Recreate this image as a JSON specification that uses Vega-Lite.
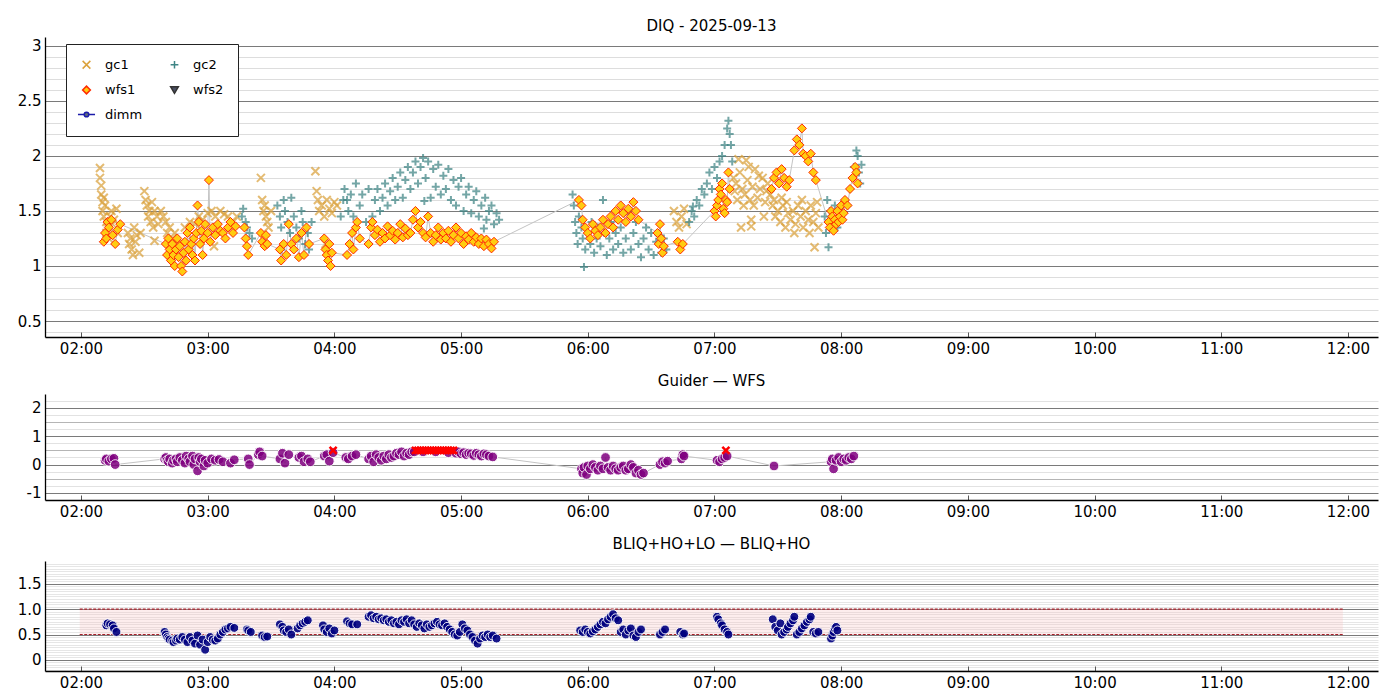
{
  "$schema": "https://vega.github.io/schema/vega-lite/v6.json",
  "padding": {"top": 19, "left": 15, "right": 5, "bottom": 2},
  "config": {
    "font": "DejaVu Sans",
    "view": {"stroke": null},
    "title": {"fontSize": 15, "fontWeight": "normal", "color": "#000", "offset": 5},
    "axis": {"labelFontSize": 15, "labelColor": "#000", "domainColor": "#000", "domainWidth": 1.3, "tickColor": "#555", "title": null, "labelOverlap": false, "labelFlush": false},
    "concat": {"spacing": 17}
  },
  "datasets": {
    "diq": [
      {"s":"gc1","h":2.15,"v":1.89},{"s":"gc1","h":2.15,"v":1.8},{"s":"gc1","h":2.16,"v":1.73},{"s":"gc1","h":2.16,"v":1.65},{"s":"gc1","h":2.17,"v":1.58},{"s":"gc1","h":2.17,"v":1.5},{"s":"gc1","h":2.18,"v":1.62},{"s":"gc1","h":2.18,"v":1.45},{"s":"gc1","h":2.19,"v":1.55},{"s":"gc1","h":2.2,"v":1.4},{"s":"gc1","h":2.2,"v":1.3},{"s":"gc1","h":2.21,"v":1.35},{"s":"gc1","h":2.22,"v":1.25},{"s":"gc1","h":2.23,"v":1.45},{"s":"gc1","h":2.24,"v":1.5},{"s":"gc1","h":2.25,"v":1.38},{"s":"gc1","h":2.26,"v":1.42},{"s":"gc1","h":2.28,"v":1.52},{"s":"gc1","h":2.29,"v":1.3},
      {"s":"gc1","h":2.37,"v":1.3},{"s":"gc1","h":2.38,"v":1.2},{"s":"gc1","h":2.39,"v":1.25},{"s":"gc1","h":2.4,"v":1.15},{"s":"gc1","h":2.41,"v":1.1},{"s":"gc1","h":2.42,"v":1.35},{"s":"gc1","h":2.43,"v":1.22},{"s":"gc1","h":2.44,"v":1.28},{"s":"gc1","h":2.46,"v":1.12},{"s":"gc1","h":2.47,"v":1.3},
      {"s":"gc1","h":2.5,"v":1.68},{"s":"gc1","h":2.51,"v":1.6},{"s":"gc1","h":2.52,"v":1.55},{"s":"gc1","h":2.53,"v":1.45},{"s":"gc1","h":2.54,"v":1.5},{"s":"gc1","h":2.55,"v":1.4},{"s":"gc1","h":2.56,"v":1.58},{"s":"gc1","h":2.57,"v":1.35},{"s":"gc1","h":2.58,"v":1.5},{"s":"gc1","h":2.58,"v":1.23},{"s":"gc1","h":2.6,"v":1.45},{"s":"gc1","h":2.61,"v":1.38},
      {"s":"gc1","h":2.63,"v":1.5},{"s":"gc1","h":2.65,"v":1.45},{"s":"gc1","h":2.67,"v":1.4},{"s":"gc1","h":2.68,"v":1.3},{"s":"gc1","h":2.7,"v":1.35},{"s":"gc1","h":2.72,"v":1.25},{"s":"gc1","h":2.74,"v":1.3},{"s":"gc1","h":2.76,"v":1.2},
      {"s":"gc1","h":2.82,"v":1.35},{"s":"gc1","h":2.86,"v":1.4},{"s":"gc1","h":2.9,"v":1.38},{"s":"gc1","h":2.93,"v":1.45},{"s":"gc1","h":2.96,"v":1.42},{"s":"gc1","h":3.0,"v":1.48},{"s":"gc1","h":3.03,"v":1.5},{"s":"gc1","h":3.05,"v":1.18},{"s":"gc1","h":3.06,"v":1.45},{"s":"gc1","h":3.1,"v":1.5},{"s":"gc1","h":3.13,"v":1.47},{"s":"gc1","h":3.16,"v":1.45},{"s":"gc1","h":3.2,"v":1.4},{"s":"gc1","h":3.23,"v":1.45},
      {"s":"gc1","h":3.42,"v":1.8},{"s":"gc1","h":3.43,"v":1.6},{"s":"gc1","h":3.44,"v":1.5},{"s":"gc1","h":3.45,"v":1.55},{"s":"gc1","h":3.46,"v":1.45},{"s":"gc1","h":3.47,"v":1.4},{"s":"gc1","h":3.48,"v":1.35},{"s":"gc1","h":3.5,"v":1.5},
      {"s":"gc1","h":3.85,"v":1.86},{"s":"gc1","h":3.86,"v":1.68},{"s":"gc1","h":3.87,"v":1.6},{"s":"gc1","h":3.88,"v":1.5},{"s":"gc1","h":3.9,"v":1.55},{"s":"gc1","h":3.92,"v":1.45},{"s":"gc1","h":3.93,"v":1.2},{"s":"gc1","h":3.94,"v":1.6},{"s":"gc1","h":3.96,"v":1.52},{"s":"gc1","h":3.98,"v":1.48},{"s":"gc1","h":4.0,"v":1.58},{"s":"gc1","h":4.02,"v":1.55},
      {"s":"gc1","h":6.68,"v":1.5},{"s":"gc1","h":6.7,"v":1.4},{"s":"gc1","h":6.72,"v":1.35},{"s":"gc1","h":6.74,"v":1.45},{"s":"gc1","h":6.76,"v":1.52},{"s":"gc1","h":6.78,"v":1.38},
      {"s":"gc1","h":7.15,"v":1.8},{"s":"gc1","h":7.16,"v":1.68},{"s":"gc1","h":7.17,"v":1.75},{"s":"gc1","h":7.18,"v":1.6},{"s":"gc1","h":7.19,"v":1.97},{"s":"gc1","h":7.2,"v":1.85},{"s":"gc1","h":7.21,"v":1.35},{"s":"gc1","h":7.22,"v":1.7},{"s":"gc1","h":7.23,"v":1.55},{"s":"gc1","h":7.24,"v":1.65},{"s":"gc1","h":7.25,"v":1.96},{"s":"gc1","h":7.26,"v":1.78},{"s":"gc1","h":7.27,"v":1.9},{"s":"gc1","h":7.28,"v":1.6},{"s":"gc1","h":7.29,"v":1.36},{"s":"gc1","h":7.29,"v":1.42},{"s":"gc1","h":7.3,"v":1.72},{"s":"gc1","h":7.31,"v":1.55},{"s":"gc1","h":7.32,"v":1.88},{"s":"gc1","h":7.34,"v":1.62},{"s":"gc1","h":7.35,"v":1.82},{"s":"gc1","h":7.36,"v":1.7},{"s":"gc1","h":7.38,"v":1.8},{"s":"gc1","h":7.39,"v":1.45},{"s":"gc1","h":7.4,"v":1.58},{"s":"gc1","h":7.41,"v":1.68},{"s":"gc1","h":7.42,"v":1.75},{"s":"gc1","h":7.44,"v":1.65},
      {"s":"gc1","h":7.46,"v":1.55},{"s":"gc1","h":7.47,"v":1.6},{"s":"gc1","h":7.48,"v":1.45},{"s":"gc1","h":7.5,"v":1.5},{"s":"gc1","h":7.52,"v":1.4},{"s":"gc1","h":7.53,"v":1.62},{"s":"gc1","h":7.54,"v":1.55},{"s":"gc1","h":7.56,"v":1.35},{"s":"gc1","h":7.57,"v":1.58},{"s":"gc1","h":7.58,"v":1.48},{"s":"gc1","h":7.6,"v":1.42},{"s":"gc1","h":7.62,"v":1.5},{"s":"gc1","h":7.63,"v":1.3},{"s":"gc1","h":7.64,"v":1.38},{"s":"gc1","h":7.66,"v":1.55},{"s":"gc1","h":7.68,"v":1.45},{"s":"gc1","h":7.69,"v":1.6},{"s":"gc1","h":7.7,"v":1.35},{"s":"gc1","h":7.72,"v":1.5},{"s":"gc1","h":7.74,"v":1.42},{"s":"gc1","h":7.75,"v":1.3},{"s":"gc1","h":7.76,"v":1.55},{"s":"gc1","h":7.78,"v":1.4},{"s":"gc1","h":7.79,"v":1.17},{"s":"gc1","h":7.8,"v":1.48},{"s":"gc1","h":7.81,"v":1.58},{"s":"gc1","h":7.82,"v":1.35},

      {"s":"gc2","h":3.27,"v":1.45},{"s":"gc2","h":3.28,"v":1.52},{"s":"gc2","h":3.3,"v":1.4},{"s":"gc2","h":3.31,"v":1.35},{"s":"gc2","h":3.33,"v":1.3},{"s":"gc2","h":3.35,"v":1.25},
      {"s":"gc2","h":3.55,"v":1.55},{"s":"gc2","h":3.57,"v":1.45},{"s":"gc2","h":3.58,"v":1.35},{"s":"gc2","h":3.58,"v":1.15},{"s":"gc2","h":3.6,"v":1.6},{"s":"gc2","h":3.61,"v":1.5},{"s":"gc2","h":3.63,"v":1.4},{"s":"gc2","h":3.65,"v":1.3},{"s":"gc2","h":3.66,"v":1.62},{"s":"gc2","h":3.68,"v":1.45},{"s":"gc2","h":3.7,"v":1.35},{"s":"gc2","h":3.72,"v":1.25},{"s":"gc2","h":3.74,"v":1.5},{"s":"gc2","h":3.75,"v":1.4},{"s":"gc2","h":3.77,"v":1.2},{"s":"gc2","h":3.79,"v":1.3},{"s":"gc2","h":3.8,"v":1.15},{"s":"gc2","h":3.82,"v":1.4},
      {"s":"gc2","h":4.05,"v":1.45},{"s":"gc2","h":4.07,"v":1.6},{"s":"gc2","h":4.08,"v":1.7},{"s":"gc2","h":4.1,"v":1.6},{"s":"gc2","h":4.11,"v":1.5},{"s":"gc2","h":4.13,"v":1.65},{"s":"gc2","h":4.15,"v":1.45},{"s":"gc2","h":4.17,"v":1.75},{"s":"gc2","h":4.2,"v":1.55},{"s":"gc2","h":4.22,"v":1.65},{"s":"gc2","h":4.25,"v":1.4},{"s":"gc2","h":4.27,"v":1.7},
      {"s":"gc2","h":4.3,"v":1.45},{"s":"gc2","h":4.32,"v":1.6},{"s":"gc2","h":4.34,"v":1.7},{"s":"gc2","h":4.36,"v":1.5},{"s":"gc2","h":4.38,"v":1.62},{"s":"gc2","h":4.4,"v":1.75},{"s":"gc2","h":4.42,"v":1.55},{"s":"gc2","h":4.44,"v":1.68},{"s":"gc2","h":4.46,"v":1.8},{"s":"gc2","h":4.48,"v":1.6},{"s":"gc2","h":4.5,"v":1.72},{"s":"gc2","h":4.52,"v":1.85},{"s":"gc2","h":4.54,"v":1.62},{"s":"gc2","h":4.56,"v":1.78},{"s":"gc2","h":4.58,"v":1.9},{"s":"gc2","h":4.6,"v":1.7},{"s":"gc2","h":4.62,"v":1.85},{"s":"gc2","h":4.64,"v":1.95},{"s":"gc2","h":4.66,"v":1.75},{"s":"gc2","h":4.68,"v":1.9},{"s":"gc2","h":4.7,"v":1.98},{"s":"gc2","h":4.71,"v":1.59},{"s":"gc2","h":4.72,"v":1.8},{"s":"gc2","h":4.74,"v":1.95},{"s":"gc2","h":4.76,"v":1.62},{"s":"gc2","h":4.78,"v":1.88},{"s":"gc2","h":4.8,"v":1.72},{"s":"gc2","h":4.82,"v":1.92},{"s":"gc2","h":4.84,"v":1.65},{"s":"gc2","h":4.86,"v":1.82},{"s":"gc2","h":4.88,"v":1.7},{"s":"gc2","h":4.9,"v":1.88},{"s":"gc2","h":4.92,"v":1.6},{"s":"gc2","h":4.94,"v":1.78},{"s":"gc2","h":4.96,"v":1.55},{"s":"gc2","h":4.98,"v":1.72},{"s":"gc2","h":5.0,"v":1.8},{"s":"gc2","h":5.02,"v":1.5},{"s":"gc2","h":5.04,"v":1.65},{"s":"gc2","h":5.06,"v":1.72},{"s":"gc2","h":5.08,"v":1.48},{"s":"gc2","h":5.1,"v":1.6},{"s":"gc2","h":5.12,"v":1.68},{"s":"gc2","h":5.14,"v":1.45},{"s":"gc2","h":5.16,"v":1.55},{"s":"gc2","h":5.18,"v":1.34},{"s":"gc2","h":5.19,"v":1.62},{"s":"gc2","h":5.2,"v":1.42},{"s":"gc2","h":5.22,"v":1.5},{"s":"gc2","h":5.24,"v":1.55},{"s":"gc2","h":5.26,"v":1.38},{"s":"gc2","h":5.28,"v":1.48},{"s":"gc2","h":5.3,"v":1.42},
      {"s":"gc2","h":5.88,"v":1.65},{"s":"gc2","h":5.89,"v":1.55},{"s":"gc2","h":5.9,"v":1.4},{"s":"gc2","h":5.91,"v":1.3},{"s":"gc2","h":5.92,"v":1.2},{"s":"gc2","h":5.93,"v":1.45},{"s":"gc2","h":5.95,"v":1.35},{"s":"gc2","h":5.96,"v":1.25},{"s":"gc2","h":5.97,"v":0.99},{"s":"gc2","h":5.98,"v":1.15},{"s":"gc2","h":6.0,"v":1.3},{"s":"gc2","h":6.02,"v":1.2},{"s":"gc2","h":6.03,"v":1.4},{"s":"gc2","h":6.05,"v":1.12},{"s":"gc2","h":6.07,"v":1.25},{"s":"gc2","h":6.08,"v":1.35},{"s":"gc2","h":6.1,"v":1.18},{"s":"gc2","h":6.12,"v":1.6},{"s":"gc2","h":6.13,"v":1.3},{"s":"gc2","h":6.15,"v":1.1},{"s":"gc2","h":6.17,"v":1.25},{"s":"gc2","h":6.18,"v":1.4},{"s":"gc2","h":6.2,"v":1.15},{"s":"gc2","h":6.22,"v":1.3},{"s":"gc2","h":6.24,"v":1.2},{"s":"gc2","h":6.26,"v":1.35},{"s":"gc2","h":6.28,"v":1.12},{"s":"gc2","h":6.3,"v":1.25},{"s":"gc2","h":6.32,"v":1.5},{"s":"gc2","h":6.34,"v":1.15},{"s":"gc2","h":6.36,"v":1.3},{"s":"gc2","h":6.38,"v":1.4},{"s":"gc2","h":6.4,"v":1.2},{"s":"gc2","h":6.42,"v":1.08},{"s":"gc2","h":6.44,"v":1.25},{"s":"gc2","h":6.46,"v":1.35},{"s":"gc2","h":6.48,"v":1.15},{"s":"gc2","h":6.5,"v":1.3},{"s":"gc2","h":6.52,"v":1.1},{"s":"gc2","h":6.54,"v":1.22},{"s":"gc2","h":6.56,"v":1.28},{"s":"gc2","h":6.58,"v":1.12},{"s":"gc2","h":6.6,"v":1.25},{"s":"gc2","h":6.62,"v":1.15},
      {"s":"gc2","h":6.8,"v":1.4},{"s":"gc2","h":6.82,"v":1.5},{"s":"gc2","h":6.83,"v":1.54},{"s":"gc2","h":6.84,"v":1.45},{"s":"gc2","h":6.86,"v":1.6},{"s":"gc2","h":6.88,"v":1.55},{"s":"gc2","h":6.9,"v":1.7},{"s":"gc2","h":6.92,"v":1.65},{"s":"gc2","h":6.94,"v":1.75},{"s":"gc2","h":6.96,"v":1.85},{"s":"gc2","h":6.98,"v":1.7},{"s":"gc2","h":7.0,"v":1.9},{"s":"gc2","h":7.02,"v":1.8},{"s":"gc2","h":7.04,"v":1.95},{"s":"gc2","h":7.06,"v":2.0},{"s":"gc2","h":7.08,"v":2.1},{"s":"gc2","h":7.1,"v":2.25},{"s":"gc2","h":7.11,"v":2.32},{"s":"gc2","h":7.12,"v":2.2},{"s":"gc2","h":7.13,"v":2.1},{"s":"gc2","h":7.14,"v":1.95},
      {"s":"gc2","h":7.87,"v":1.45},{"s":"gc2","h":7.88,"v":1.3},{"s":"gc2","h":7.89,"v":1.6},{"s":"gc2","h":7.9,"v":1.17},{"s":"gc2","h":7.91,"v":1.5},{"s":"gc2","h":7.93,"v":1.4},{"s":"gc2","h":7.95,"v":1.55},{"s":"gc2","h":7.97,"v":1.35},{"s":"gc2","h":7.99,"v":1.45},{"s":"gc2","h":8.01,"v":1.5},{"s":"gc2","h":8.03,"v":1.6},{"s":"gc2","h":8.05,"v":1.55},{"s":"gc2","h":8.07,"v":1.7},{"s":"gc2","h":8.09,"v":1.8},{"s":"gc2","h":8.1,"v":1.9},{"s":"gc2","h":8.12,"v":2.05},{"s":"gc2","h":8.13,"v":2.0},{"s":"gc2","h":8.14,"v":1.85},{"s":"gc2","h":8.15,"v":1.75},{"s":"gc2","h":8.16,"v":1.92},

      {"s":"wfs1","h":2.18,"v":1.22},{"s":"wfs1","h":2.19,"v":1.3},{"s":"wfs1","h":2.2,"v":1.25},{"s":"wfs1","h":2.21,"v":1.4},{"s":"wfs1","h":2.22,"v":1.35},{"s":"wfs1","h":2.24,"v":1.42},{"s":"wfs1","h":2.25,"v":1.28},{"s":"wfs1","h":2.27,"v":1.2},{"s":"wfs1","h":2.29,"v":1.33},{"s":"wfs1","h":2.31,"v":1.38},
      {"s":"wfs1","h":2.67,"v":1.2},{"s":"wfs1","h":2.68,"v":1.1},{"s":"wfs1","h":2.69,"v":1.25},{"s":"wfs1","h":2.7,"v":1.15},{"s":"wfs1","h":2.71,"v":1.05},{"s":"wfs1","h":2.72,"v":1.2},{"s":"wfs1","h":2.73,"v":1.1},{"s":"wfs1","h":2.74,"v":1.0},{"s":"wfs1","h":2.75,"v":1.15},{"s":"wfs1","h":2.76,"v":1.25},{"s":"wfs1","h":2.77,"v":1.08},{"s":"wfs1","h":2.78,"v":1.18},{"s":"wfs1","h":2.79,"v":1.0},{"s":"wfs1","h":2.8,"v":0.95},{"s":"wfs1","h":2.81,"v":1.12},{"s":"wfs1","h":2.82,"v":1.22},{"s":"wfs1","h":2.83,"v":1.05},{"s":"wfs1","h":2.84,"v":1.3},{"s":"wfs1","h":2.85,"v":1.15},{"s":"wfs1","h":2.86,"v":1.35},{"s":"wfs1","h":2.87,"v":1.2},{"s":"wfs1","h":2.88,"v":1.1},{"s":"wfs1","h":2.89,"v":1.25},{"s":"wfs1","h":2.9,"v":1.05},{"s":"wfs1","h":2.91,"v":1.3},{"s":"wfs1","h":2.92,"v":1.55},{"s":"wfs1","h":2.93,"v":1.4},{"s":"wfs1","h":2.94,"v":1.2},{"s":"wfs1","h":2.95,"v":1.32},{"s":"wfs1","h":2.96,"v":1.1},{"s":"wfs1","h":2.97,"v":1.25},{"s":"wfs1","h":2.98,"v":1.38},{"s":"wfs1","h":3.0,"v":1.3},{"s":"wfs1","h":3.01,"v":1.78},{"s":"wfs1","h":3.02,"v":1.22},{"s":"wfs1","h":3.04,"v":1.35},{"s":"wfs1","h":3.06,"v":1.28},{"s":"wfs1","h":3.08,"v":1.38},{"s":"wfs1","h":3.1,"v":1.32},{"s":"wfs1","h":3.12,"v":1.3},{"s":"wfs1","h":3.14,"v":1.25},{"s":"wfs1","h":3.16,"v":1.35},{"s":"wfs1","h":3.18,"v":1.4},{"s":"wfs1","h":3.2,"v":1.3},{"s":"wfs1","h":3.22,"v":1.36},
      {"s":"wfs1","h":3.29,"v":1.35},{"s":"wfs1","h":3.3,"v":1.25},{"s":"wfs1","h":3.31,"v":1.18},{"s":"wfs1","h":3.32,"v":1.1},
      {"s":"wfs1","h":3.42,"v":1.3},{"s":"wfs1","h":3.43,"v":1.22},{"s":"wfs1","h":3.45,"v":1.18},{"s":"wfs1","h":3.46,"v":1.28},{"s":"wfs1","h":3.47,"v":1.2},
      {"s":"wfs1","h":3.57,"v":1.15},{"s":"wfs1","h":3.58,"v":1.05},{"s":"wfs1","h":3.6,"v":1.2},{"s":"wfs1","h":3.62,"v":1.1},{"s":"wfs1","h":3.64,"v":1.38},{"s":"wfs1","h":3.66,"v":1.2},{"s":"wfs1","h":3.68,"v":1.15},{"s":"wfs1","h":3.7,"v":1.25},{"s":"wfs1","h":3.72,"v":1.08},{"s":"wfs1","h":3.74,"v":1.3},{"s":"wfs1","h":3.76,"v":1.1},{"s":"wfs1","h":3.78,"v":1.35},{"s":"wfs1","h":3.8,"v":1.2},
      {"s":"wfs1","h":3.92,"v":1.25},{"s":"wfs1","h":3.93,"v":1.15},{"s":"wfs1","h":3.94,"v":1.1},{"s":"wfs1","h":3.95,"v":1.05},{"s":"wfs1","h":3.96,"v":1.2},{"s":"wfs1","h":3.97,"v":1.0},{"s":"wfs1","h":3.98,"v":1.12},
      {"s":"wfs1","h":4.1,"v":1.1},{"s":"wfs1","h":4.12,"v":1.2},{"s":"wfs1","h":4.14,"v":1.3},{"s":"wfs1","h":4.15,"v":1.15},{"s":"wfs1","h":4.17,"v":1.35},{"s":"wfs1","h":4.18,"v":1.4},{"s":"wfs1","h":4.2,"v":1.25},
      {"s":"wfs1","h":4.27,"v":1.2},{"s":"wfs1","h":4.29,"v":1.35},{"s":"wfs1","h":4.3,"v":1.4},{"s":"wfs1","h":4.32,"v":1.28},{"s":"wfs1","h":4.34,"v":1.33},{"s":"wfs1","h":4.36,"v":1.22},{"s":"wfs1","h":4.38,"v":1.3},{"s":"wfs1","h":4.4,"v":1.25},{"s":"wfs1","h":4.42,"v":1.36},{"s":"wfs1","h":4.44,"v":1.28},{"s":"wfs1","h":4.46,"v":1.32},{"s":"wfs1","h":4.48,"v":1.24},{"s":"wfs1","h":4.5,"v":1.3},{"s":"wfs1","h":4.52,"v":1.38},{"s":"wfs1","h":4.54,"v":1.26},{"s":"wfs1","h":4.56,"v":1.34},{"s":"wfs1","h":4.58,"v":1.28},{"s":"wfs1","h":4.6,"v":1.3},{"s":"wfs1","h":4.62,"v":1.42},{"s":"wfs1","h":4.64,"v":1.5},{"s":"wfs1","h":4.66,"v":1.35},{"s":"wfs1","h":4.68,"v":1.4},{"s":"wfs1","h":4.7,"v":1.3},{"s":"wfs1","h":4.72,"v":1.26},{"s":"wfs1","h":4.74,"v":1.45},{"s":"wfs1","h":4.76,"v":1.3},{"s":"wfs1","h":4.78,"v":1.22},{"s":"wfs1","h":4.8,"v":1.28},{"s":"wfs1","h":4.82,"v":1.35},{"s":"wfs1","h":4.84,"v":1.24},{"s":"wfs1","h":4.86,"v":1.3},{"s":"wfs1","h":4.88,"v":1.25},{"s":"wfs1","h":4.9,"v":1.32},{"s":"wfs1","h":4.92,"v":1.22},{"s":"wfs1","h":4.94,"v":1.28},{"s":"wfs1","h":4.96,"v":1.35},{"s":"wfs1","h":4.98,"v":1.25},{"s":"wfs1","h":5.0,"v":1.3},{"s":"wfs1","h":5.02,"v":1.2},{"s":"wfs1","h":5.04,"v":1.27},{"s":"wfs1","h":5.06,"v":1.24},{"s":"wfs1","h":5.08,"v":1.3},{"s":"wfs1","h":5.1,"v":1.22},{"s":"wfs1","h":5.12,"v":1.26},{"s":"wfs1","h":5.14,"v":1.2},{"s":"wfs1","h":5.16,"v":1.25},{"s":"wfs1","h":5.18,"v":1.18},{"s":"wfs1","h":5.2,"v":1.24},{"s":"wfs1","h":5.22,"v":1.2},{"s":"wfs1","h":5.24,"v":1.16},{"s":"wfs1","h":5.26,"v":1.22},
      {"s":"wfs1","h":5.93,"v":1.6},{"s":"wfs1","h":5.95,"v":1.55},{"s":"wfs1","h":5.96,"v":1.42},{"s":"wfs1","h":5.98,"v":1.35},{"s":"wfs1","h":6.0,"v":1.3},{"s":"wfs1","h":6.02,"v":1.25},{"s":"wfs1","h":6.04,"v":1.38},{"s":"wfs1","h":6.06,"v":1.32},{"s":"wfs1","h":6.08,"v":1.28},{"s":"wfs1","h":6.1,"v":1.35},{"s":"wfs1","h":6.12,"v":1.42},{"s":"wfs1","h":6.14,"v":1.3},{"s":"wfs1","h":6.16,"v":1.38},{"s":"wfs1","h":6.18,"v":1.45},{"s":"wfs1","h":6.2,"v":1.35},{"s":"wfs1","h":6.22,"v":1.5},{"s":"wfs1","h":6.24,"v":1.42},{"s":"wfs1","h":6.26,"v":1.55},{"s":"wfs1","h":6.28,"v":1.48},{"s":"wfs1","h":6.3,"v":1.4},{"s":"wfs1","h":6.32,"v":1.52},{"s":"wfs1","h":6.34,"v":1.45},{"s":"wfs1","h":6.36,"v":1.58},{"s":"wfs1","h":6.38,"v":1.5},{"s":"wfs1","h":6.4,"v":1.42},
      {"s":"wfs1","h":6.55,"v":1.3},{"s":"wfs1","h":6.56,"v":1.2},{"s":"wfs1","h":6.57,"v":1.38},{"s":"wfs1","h":6.58,"v":1.25},{"s":"wfs1","h":6.59,"v":1.12},{"s":"wfs1","h":6.6,"v":1.18},
      {"s":"wfs1","h":6.71,"v":1.22},{"s":"wfs1","h":6.73,"v":1.15},{"s":"wfs1","h":6.75,"v":1.2},
      {"s":"wfs1","h":7.0,"v":1.5},{"s":"wfs1","h":7.01,"v":1.45},{"s":"wfs1","h":7.02,"v":1.55},{"s":"wfs1","h":7.03,"v":1.6},{"s":"wfs1","h":7.04,"v":1.7},{"s":"wfs1","h":7.05,"v":1.65},{"s":"wfs1","h":7.06,"v":1.75},{"s":"wfs1","h":7.07,"v":1.52},{"s":"wfs1","h":7.08,"v":1.48},{"s":"wfs1","h":7.09,"v":1.6},{"s":"wfs1","h":7.1,"v":1.58},{"s":"wfs1","h":7.11,"v":1.85},{"s":"wfs1","h":7.12,"v":1.7},
      {"s":"wfs1","h":7.45,"v":1.7},{"s":"wfs1","h":7.47,"v":1.8},{"s":"wfs1","h":7.49,"v":1.85},{"s":"wfs1","h":7.51,"v":1.75},{"s":"wfs1","h":7.53,"v":1.88},{"s":"wfs1","h":7.55,"v":1.8},{"s":"wfs1","h":7.57,"v":1.72},{"s":"wfs1","h":7.59,"v":1.78},
      {"s":"wfs1","h":7.63,"v":2.05},{"s":"wfs1","h":7.65,"v":2.15},{"s":"wfs1","h":7.67,"v":2.1},{"s":"wfs1","h":7.69,"v":2.25},{"s":"wfs1","h":7.7,"v":2.02},{"s":"wfs1","h":7.72,"v":2.0},{"s":"wfs1","h":7.74,"v":1.95},{"s":"wfs1","h":7.76,"v":2.02},{"s":"wfs1","h":7.78,"v":1.85},{"s":"wfs1","h":7.8,"v":1.78},
      {"s":"wfs1","h":7.9,"v":1.4},{"s":"wfs1","h":7.91,"v":1.35},{"s":"wfs1","h":7.92,"v":1.5},{"s":"wfs1","h":7.93,"v":1.45},{"s":"wfs1","h":7.94,"v":1.32},{"s":"wfs1","h":7.95,"v":1.42},{"s":"wfs1","h":7.96,"v":1.38},{"s":"wfs1","h":7.97,"v":1.5},{"s":"wfs1","h":7.98,"v":1.4},{"s":"wfs1","h":7.99,"v":1.45},{"s":"wfs1","h":8.0,"v":1.55},{"s":"wfs1","h":8.01,"v":1.42},{"s":"wfs1","h":8.02,"v":1.48},{"s":"wfs1","h":8.03,"v":1.6},{"s":"wfs1","h":8.05,"v":1.55},{"s":"wfs1","h":8.07,"v":1.7},{"s":"wfs1","h":8.09,"v":1.8},{"s":"wfs1","h":8.11,"v":1.9},{"s":"wfs1","h":8.12,"v":1.85},{"s":"wfs1","h":8.13,"v":1.75}
    ],
    "gw": [
      {"k":"o","h":2.19,"v":0.15},{"k":"o","h":2.2,"v":0.2},{"k":"o","h":2.22,"v":0.12},{"k":"o","h":2.24,"v":0.2},{"k":"o","h":2.26,"v":0.22},{"k":"o","h":2.27,"v":0.0},
      {"k":"o","h":2.66,"v":0.2},{"k":"o","h":2.67,"v":0.25},{"k":"o","h":2.68,"v":0.15},{"k":"o","h":2.69,"v":0.1},{"k":"o","h":2.7,"v":0.2},{"k":"o","h":2.72,"v":0.05},{"k":"o","h":2.73,"v":0.15},{"k":"o","h":2.75,"v":0.2},{"k":"o","h":2.76,"v":0.1},{"k":"o","h":2.78,"v":0.25},{"k":"o","h":2.8,"v":0.15},{"k":"o","h":2.82,"v":0.05},{"k":"o","h":2.83,"v":0.3},{"k":"o","h":2.85,"v":0.2},{"k":"o","h":2.86,"v":0.1},{"k":"o","h":2.88,"v":0.3},{"k":"o","h":2.89,"v":0.0},{"k":"o","h":2.9,"v":0.2},{"k":"o","h":2.92,"v":-0.22},{"k":"o","h":2.93,"v":0.25},{"k":"o","h":2.94,"v":0.1},{"k":"o","h":2.95,"v":0.2},{"k":"o","h":2.97,"v":-0.05},{"k":"o","h":2.98,"v":0.15},{"k":"o","h":3.0,"v":0.05},{"k":"o","h":3.03,"v":0.2},{"k":"o","h":3.06,"v":0.15},{"k":"o","h":3.09,"v":0.18},{"k":"o","h":3.12,"v":0.1},{"k":"o","h":3.18,"v":0.05},{"k":"o","h":3.21,"v":0.17},{"k":"o","h":3.32,"v":0.2},{"k":"o","h":3.33,"v":0.0},
      {"k":"o","h":3.4,"v":0.35},{"k":"o","h":3.41,"v":0.45},{"k":"o","h":3.43,"v":0.3},
      {"k":"o","h":3.57,"v":0.2},{"k":"o","h":3.59,"v":0.4},{"k":"o","h":3.61,"v":0.05},{"k":"o","h":3.64,"v":0.35},
      {"k":"o","h":3.72,"v":0.25},{"k":"o","h":3.74,"v":0.3},{"k":"o","h":3.76,"v":0.1},{"k":"o","h":3.79,"v":0.2},{"k":"o","h":3.81,"v":0.1},
      {"k":"o","h":3.92,"v":0.3},{"k":"o","h":3.94,"v":0.35},{"k":"o","h":3.96,"v":0.12},{"k":"o","h":3.99,"v":0.42},{"k":"x","h":3.99,"v":0.5},
      {"k":"o","h":4.09,"v":0.25},{"k":"o","h":4.11,"v":0.2},{"k":"o","h":4.14,"v":0.3},{"k":"o","h":4.17,"v":0.35},
      {"k":"o","h":4.27,"v":0.2},{"k":"o","h":4.29,"v":0.3},{"k":"o","h":4.31,"v":0.1},{"k":"o","h":4.33,"v":0.35},{"k":"o","h":4.35,"v":0.25},{"k":"o","h":4.37,"v":0.15},{"k":"o","h":4.39,"v":0.3},{"k":"o","h":4.41,"v":0.2},{"k":"o","h":4.43,"v":0.35},{"k":"o","h":4.45,"v":0.25},{"k":"o","h":4.47,"v":0.3},{"k":"o","h":4.49,"v":0.4},{"k":"o","h":4.51,"v":0.35},{"k":"o","h":4.53,"v":0.45},{"k":"o","h":4.55,"v":0.3},{"k":"o","h":4.57,"v":0.4},{"k":"o","h":4.59,"v":0.35},{"k":"o","h":4.61,"v":0.45},{"k":"o","h":4.63,"v":0.45},{"k":"o","h":4.7,"v":0.45},{"k":"o","h":4.8,"v":0.45},{"k":"o","h":4.9,"v":0.42},
      {"k":"x","h":4.64,"v":0.5},{"k":"x","h":4.66,"v":0.5},{"k":"x","h":4.68,"v":0.5},{"k":"x","h":4.7,"v":0.5},{"k":"x","h":4.72,"v":0.5},{"k":"x","h":4.74,"v":0.5},{"k":"x","h":4.76,"v":0.5},{"k":"x","h":4.78,"v":0.5},{"k":"x","h":4.8,"v":0.5},{"k":"x","h":4.82,"v":0.5},{"k":"x","h":4.84,"v":0.5},{"k":"x","h":4.86,"v":0.5},{"k":"x","h":4.88,"v":0.5},{"k":"x","h":4.9,"v":0.5},{"k":"x","h":4.92,"v":0.5},{"k":"x","h":4.94,"v":0.5},
      {"k":"o","h":4.96,"v":0.4},{"k":"o","h":4.98,"v":0.45},{"k":"o","h":5.0,"v":0.38},{"k":"o","h":5.02,"v":0.42},{"k":"o","h":5.04,"v":0.35},{"k":"o","h":5.06,"v":0.4},{"k":"o","h":5.08,"v":0.38},{"k":"o","h":5.1,"v":0.32},{"k":"o","h":5.12,"v":0.4},{"k":"o","h":5.14,"v":0.35},{"k":"o","h":5.16,"v":0.3},{"k":"o","h":5.18,"v":0.38},{"k":"o","h":5.2,"v":0.35},{"k":"o","h":5.22,"v":0.3},{"k":"o","h":5.25,"v":0.27},
      {"k":"o","h":5.95,"v":-0.15},{"k":"o","h":5.96,"v":-0.3},{"k":"o","h":5.97,"v":-0.1},{"k":"o","h":5.99,"v":-0.35},{"k":"o","h":6.0,"v":-0.05},{"k":"o","h":6.02,"v":-0.15},{"k":"o","h":6.04,"v":0.0},{"k":"o","h":6.06,"v":-0.1},{"k":"o","h":6.08,"v":-0.2},{"k":"o","h":6.1,"v":-0.05},{"k":"o","h":6.12,"v":-0.15},{"k":"o","h":6.14,"v":0.25},{"k":"o","h":6.16,"v":-0.1},{"k":"o","h":6.18,"v":-0.2},{"k":"o","h":6.2,"v":-0.05},{"k":"o","h":6.22,"v":-0.15},{"k":"o","h":6.24,"v":-0.2},{"k":"o","h":6.26,"v":-0.1},{"k":"o","h":6.28,"v":-0.05},{"k":"o","h":6.3,"v":-0.2},{"k":"o","h":6.32,"v":-0.15},{"k":"o","h":6.34,"v":0.0},{"k":"o","h":6.36,"v":-0.1},{"k":"o","h":6.38,"v":-0.3},{"k":"o","h":6.4,"v":-0.2},{"k":"o","h":6.42,"v":-0.35},{"k":"o","h":6.44,"v":-0.3},
      {"k":"o","h":6.57,"v":0.0},{"k":"o","h":6.59,"v":0.1},{"k":"o","h":6.61,"v":0.05},{"k":"o","h":6.63,"v":0.12},
      {"k":"o","h":6.74,"v":0.2},{"k":"o","h":6.75,"v":0.35},{"k":"o","h":6.76,"v":0.3},
      {"k":"o","h":7.02,"v":0.15},{"k":"o","h":7.04,"v":0.1},{"k":"o","h":7.06,"v":0.2},{"k":"o","h":7.08,"v":0.25},{"k":"o","h":7.1,"v":0.3},{"k":"x","h":7.09,"v":0.5},
      {"k":"o","h":7.47,"v":-0.05},
      {"k":"o","h":7.92,"v":0.1},{"k":"o","h":7.93,"v":0.2},{"k":"o","h":7.94,"v":-0.15},{"k":"o","h":7.96,"v":0.15},{"k":"o","h":7.98,"v":0.25},{"k":"o","h":8.0,"v":0.1},{"k":"o","h":8.02,"v":0.2},{"k":"o","h":8.04,"v":0.15},{"k":"o","h":8.06,"v":0.25},{"k":"o","h":8.08,"v":0.2},{"k":"o","h":8.1,"v":0.3}
    ],
    "bl": [
      {"h":2.2,"v":0.68},{"h":2.21,"v":0.72},{"h":2.23,"v":0.7},{"h":2.25,"v":0.68},{"h":2.26,"v":0.62},{"h":2.28,"v":0.55},
      {"h":2.66,"v":0.55},{"h":2.67,"v":0.5},{"h":2.68,"v":0.45},{"h":2.69,"v":0.42},{"h":2.7,"v":0.4},{"h":2.72,"v":0.38},{"h":2.73,"v":0.35},{"h":2.75,"v":0.38},{"h":2.76,"v":0.42},{"h":2.78,"v":0.4},{"h":2.8,"v":0.45},{"h":2.82,"v":0.4},{"h":2.84,"v":0.35},{"h":2.86,"v":0.45},{"h":2.88,"v":0.38},{"h":2.9,"v":0.32},{"h":2.92,"v":0.48},{"h":2.94,"v":0.3},{"h":2.96,"v":0.4},{"h":2.98,"v":0.2},{"h":3.0,"v":0.35},{"h":3.02,"v":0.45},{"h":3.04,"v":0.4},{"h":3.06,"v":0.38},{"h":3.08,"v":0.42},{"h":3.1,"v":0.5},{"h":3.12,"v":0.55},{"h":3.14,"v":0.6},{"h":3.16,"v":0.62},{"h":3.18,"v":0.65},{"h":3.21,"v":0.63},
      {"h":3.31,"v":0.6},{"h":3.32,"v":0.58},{"h":3.34,"v":0.55},
      {"h":3.43,"v":0.48},{"h":3.45,"v":0.45},{"h":3.47,"v":0.46},
      {"h":3.57,"v":0.7},{"h":3.59,"v":0.65},{"h":3.6,"v":0.58},{"h":3.62,"v":0.55},{"h":3.64,"v":0.6},{"h":3.66,"v":0.5},
      {"h":3.71,"v":0.62},{"h":3.73,"v":0.68},{"h":3.75,"v":0.72},{"h":3.77,"v":0.75},{"h":3.79,"v":0.78},
      {"h":3.91,"v":0.68},{"h":3.92,"v":0.6},{"h":3.94,"v":0.55},{"h":3.96,"v":0.62},{"h":3.98,"v":0.52},{"h":4.0,"v":0.58},
      {"h":4.1,"v":0.76},{"h":4.12,"v":0.72},{"h":4.14,"v":0.7},{"h":4.18,"v":0.7},
      {"h":4.27,"v":0.85},{"h":4.29,"v":0.88},{"h":4.31,"v":0.82},{"h":4.33,"v":0.85},{"h":4.35,"v":0.8},{"h":4.37,"v":0.82},{"h":4.39,"v":0.78},{"h":4.41,"v":0.8},{"h":4.43,"v":0.75},{"h":4.45,"v":0.78},{"h":4.47,"v":0.72},{"h":4.49,"v":0.75},{"h":4.51,"v":0.7},{"h":4.53,"v":0.78},{"h":4.55,"v":0.75},{"h":4.57,"v":0.8},{"h":4.59,"v":0.72},{"h":4.61,"v":0.78},{"h":4.63,"v":0.7},{"h":4.65,"v":0.65},{"h":4.67,"v":0.72},{"h":4.69,"v":0.68},{"h":4.71,"v":0.62},{"h":4.73,"v":0.7},{"h":4.75,"v":0.65},{"h":4.77,"v":0.68},{"h":4.79,"v":0.72},{"h":4.81,"v":0.75},{"h":4.83,"v":0.7},{"h":4.85,"v":0.68},{"h":4.87,"v":0.72},{"h":4.89,"v":0.65},{"h":4.91,"v":0.6},{"h":4.93,"v":0.55},{"h":4.95,"v":0.5},{"h":4.97,"v":0.48},{"h":4.99,"v":0.55},{"h":5.01,"v":0.7},{"h":5.03,"v":0.62},{"h":5.05,"v":0.58},{"h":5.07,"v":0.5},{"h":5.09,"v":0.45},{"h":5.11,"v":0.38},{"h":5.13,"v":0.32},{"h":5.15,"v":0.42},{"h":5.17,"v":0.48},{"h":5.19,"v":0.45},{"h":5.21,"v":0.5},{"h":5.23,"v":0.45},{"h":5.25,"v":0.48},{"h":5.28,"v":0.42},
      {"h":5.94,"v":0.58},{"h":5.96,"v":0.55},{"h":5.98,"v":0.6},{"h":6.0,"v":0.55},{"h":6.02,"v":0.52},{"h":6.04,"v":0.56},{"h":6.06,"v":0.6},{"h":6.08,"v":0.65},{"h":6.1,"v":0.7},{"h":6.12,"v":0.75},{"h":6.14,"v":0.72},{"h":6.16,"v":0.8},{"h":6.18,"v":0.85},{"h":6.2,"v":0.9},{"h":6.22,"v":0.82},{"h":6.24,"v":0.78},{"h":6.26,"v":0.55},{"h":6.28,"v":0.6},{"h":6.3,"v":0.5},{"h":6.32,"v":0.58},{"h":6.34,"v":0.62},{"h":6.36,"v":0.48},{"h":6.38,"v":0.45},{"h":6.4,"v":0.55},{"h":6.42,"v":0.6},
      {"h":6.57,"v":0.5},{"h":6.59,"v":0.55},{"h":6.61,"v":0.6},
      {"h":6.73,"v":0.55},{"h":6.75,"v":0.5},{"h":6.76,"v":0.52},
      {"h":7.02,"v":0.85},{"h":7.03,"v":0.8},{"h":7.05,"v":0.72},{"h":7.06,"v":0.68},{"h":7.08,"v":0.6},{"h":7.1,"v":0.55},{"h":7.11,"v":0.5},
      {"h":7.46,"v":0.8},{"h":7.48,"v":0.65},{"h":7.5,"v":0.58},{"h":7.52,"v":0.72},{"h":7.53,"v":0.5},{"h":7.55,"v":0.55},{"h":7.57,"v":0.6},{"h":7.58,"v":0.65},{"h":7.6,"v":0.72},{"h":7.62,"v":0.78},{"h":7.63,"v":0.85},{"h":7.65,"v":0.5},{"h":7.67,"v":0.55},{"h":7.69,"v":0.62},{"h":7.71,"v":0.68},{"h":7.73,"v":0.75},{"h":7.75,"v":0.8},{"h":7.76,"v":0.85},{"h":7.78,"v":0.55},{"h":7.8,"v":0.52},{"h":7.82,"v":0.55},
      {"h":7.92,"v":0.42},{"h":7.93,"v":0.48},{"h":7.94,"v":0.55},{"h":7.95,"v":0.62},{"h":7.96,"v":0.65},{"h":7.97,"v":0.58}
    ],
    "band": [{"h":1.99,"h1":11.96,"v":0.5,"v1":1.0}],
    "limits": [{"h":1.99,"h1":11.96,"v":0.5},{"h":1.99,"h1":11.96,"v":1.0}]
  },
  "vconcat": [
    {
      "title": {"text": "DIQ - 2025-09-13", "offset": 3},
      "width": 1333,
      "height": 300,
      "data": {"name": "diq"},
      "encoding": {
        "x": {"field": "h", "type": "quantitative", "scale": {"domain": [1.716, 12.237], "nice": false, "zero": false},
          "axis": {"values": [2,3,4,5,6,7,8,9,10,11,12], "labelExpr": "(datum.value < 10 ? '0' : '') + datum.value + ':00'", "grid": false, "tickSize": -5, "labelPadding": 9}},
        "y": {"field": "v", "type": "quantitative", "scale": {"domain": [0.355, 3.08], "nice": false, "zero": false},
          "axis": {"values": [0.4,0.5,0.6,0.7,0.8,0.9,1,1.1,1.2,1.3,1.4,1.5,1.6,1.7,1.8,1.9,2,2.1,2.2,2.3,2.4,2.5,2.6,2.7,2.8,2.9,3],
            "labelExpr": "abs(datum.value*2 - round(datum.value*2)) < 0.001 ? format(datum.value, '~g') : ''",
            "grid": true,
            "gridColor": {"condition": {"test": "abs(datum.value*2 - round(datum.value*2)) < 0.001", "value": "#7a7a7a"}, "value": "#dddddd"},
            "ticks": false, "labelPadding": 4, "minExtent": 30, "maxExtent": 30}}
      },
      "layer": [
        {
          "transform": [{"filter": "datum.s == 'wfs1'"}],
          "mark": {"type": "line", "color": "#c4c4c4", "strokeWidth": 1},
          "encoding": {"order": {"field": "h"}}
        },
        {
          "transform": [{"filter": "datum.s == 'gc1' || datum.s == 'gc2'"}],
          "mark": {"type": "point", "filled": false, "size": 64, "strokeWidth": 2, "opacity": 0.72},
          "encoding": {
            "shape": {"field": "s", "type": "nominal",
              "scale": {"domain": ["gc1","gc2","wfs1","wfs2","dimm"],
                "range": ["M-1,-1L1,1M-1,1L1,-1", "M0,-1L0,1M-1,0L1,0", "diamond", "triangle-down", "M-2.2,0L-0.6,0M0.6,0L2.2,0M0.6,0A0.6,0.6,0,1,1,-0.6,0A0.6,0.6,0,1,1,0.6,0"]},
              "legend": {"orient": "none", "legendX": 21, "legendY": 7, "columns": 2, "direction": "horizontal", "title": null, "strokeColor": "#222", "fillColor": "#ffffff", "padding": 14, "labelFontSize": 13, "labelColor": "#000", "labelOffset": 12, "columnPadding": 24, "rowPadding": 10.5, "symbolSize": 60, "symbolStrokeWidth": 1.5, "symbolOpacity": 1}},
            "fill": {"field": "s", "type": "nominal",
              "scale": {"domain": ["gc1","gc2","wfs1","wfs2","dimm"], "range": ["#dba23c", "#3a8080", "#ffcc11", "#4a4f63", "#5f6b7a"]}},
            "stroke": {"field": "s", "type": "nominal",
              "scale": {"domain": ["gc1","gc2","wfs1","wfs2","dimm"], "range": ["#dba23c", "#3f8585", "#ff2a00", "#333333", "#1c1caa"]}}
          }
        },
        {
          "transform": [{"filter": "datum.s == 'wfs1'"}],
          "mark": {"type": "point", "filled": true, "size": 81, "strokeWidth": 1, "opacity": 1},
          "encoding": {
            "shape": {"field": "s", "type": "nominal"},
            "fill": {"field": "s", "type": "nominal"},
            "stroke": {"field": "s", "type": "nominal"}
          }
        }
      ]
    },
    {
      "title": "Guider — WFS",
      "width": 1333,
      "height": 106,
      "data": {"name": "gw"},
      "encoding": {
        "x": {"field": "h", "type": "quantitative", "scale": {"domain": [1.716, 12.237], "nice": false, "zero": false},
          "axis": {"values": [2,3,4,5,6,7,8,9,10,11,12], "labelExpr": "(datum.value < 10 ? '0' : '') + datum.value + ':00'", "grid": false, "tickSize": -5, "labelPadding": 9}},
        "y": {"field": "v", "type": "quantitative", "scale": {"domain": [-1.25, 2.49], "nice": false, "zero": false},
          "axis": {"values": [-1,-0.75,-0.5,-0.25,0,0.25,0.5,0.75,1,1.25,1.5,1.75,2,2.25],
            "labelExpr": "datum.value == round(datum.value) ? (datum.value < 0 ? '-' + abs(datum.value) : '' + datum.value) : ''",
            "grid": true,
            "gridColor": {"condition": [{"test": "datum.value == round(datum.value)", "value": "#7a7a7a"}, {"test": "datum.value*2 == round(datum.value*2)", "value": "#b5b5b5"}], "value": "#e2e2e2"},
            "ticks": false, "labelPadding": 4, "minExtent": 30, "maxExtent": 30}}
      },
      "layer": [
        {
          "transform": [{"filter": "datum.k == 'o'"}],
          "mark": {"type": "line", "color": "#c4c4c4", "strokeWidth": 1},
          "encoding": {"order": {"field": "h"}}
        },
        {
          "transform": [{"filter": "datum.k == 'o'"}],
          "mark": {"type": "circle", "size": 95, "color": "#800080", "stroke": "#ffffff", "strokeWidth": 1, "opacity": 0.85}
        },
        {
          "transform": [{"filter": "datum.k == 'x'"}],
          "mark": {"type": "point", "shape": "M-1,-1L1,1M-1,1L1,-1", "size": 50, "color": "#ff0000", "strokeWidth": 2.5, "opacity": 1}
        }
      ]
    },
    {
      "title": "BLIQ+HO+LO — BLIQ+HO",
      "width": 1333,
      "height": 110,
      "encoding": {
        "x": {"field": "h", "type": "quantitative", "scale": {"domain": [1.716, 12.237], "nice": false, "zero": false},
          "axis": {"values": [2,3,4,5,6,7,8,9,10,11,12], "labelExpr": "(datum.value < 10 ? '0' : '') + datum.value + ':00'", "grid": false, "tickSize": -5, "labelPadding": 9}},
        "y": {"field": "v", "type": "quantitative", "scale": {"domain": [-0.22, 1.95], "nice": false, "zero": false},
          "axis": {"values": [-0.2,-0.15,-0.1,-0.05,0,0.05,0.1,0.15,0.2,0.25,0.3,0.35,0.4,0.45,0.5,0.55,0.6,0.65,0.7,0.75,0.8,0.85,0.9,0.95,1,1.05,1.1,1.15,1.2,1.25,1.3,1.35,1.4,1.45,1.5,1.55,1.6,1.65,1.7,1.75,1.8,1.85,1.9],
            "labelExpr": "abs(datum.value*2 - round(datum.value*2)) < 0.001 ? (datum.value == 0 ? '0' : format(datum.value, '.1f')) : ''",
            "grid": true,
            "gridColor": {"condition": {"test": "abs(datum.value*2 - round(datum.value*2)) < 0.001", "value": "#7a7a7a"}, "value": "#e6e6e6"},
            "ticks": false, "labelPadding": 4, "minExtent": 30, "maxExtent": 30}}
      },
      "layer": [
        {
          "data": {"name": "band"},
          "mark": {"type": "rect", "color": "#f7c4c4", "opacity": 0.3},
          "encoding": {"x2": {"field": "h1"}, "y2": {"field": "v1"}}
        },
        {
          "data": {"name": "limits"},
          "mark": {"type": "rule", "color": "#a8202a", "strokeDash": [3, 1.5], "strokeWidth": 1.1},
          "encoding": {"x2": {"field": "h1"}}
        },
        {
          "data": {"name": "bl"},
          "mark": {"type": "circle", "size": 80, "color": "#000080", "stroke": "#ffffff", "strokeWidth": 1, "opacity": 0.9}
        }
      ]
    }
  ]
}
